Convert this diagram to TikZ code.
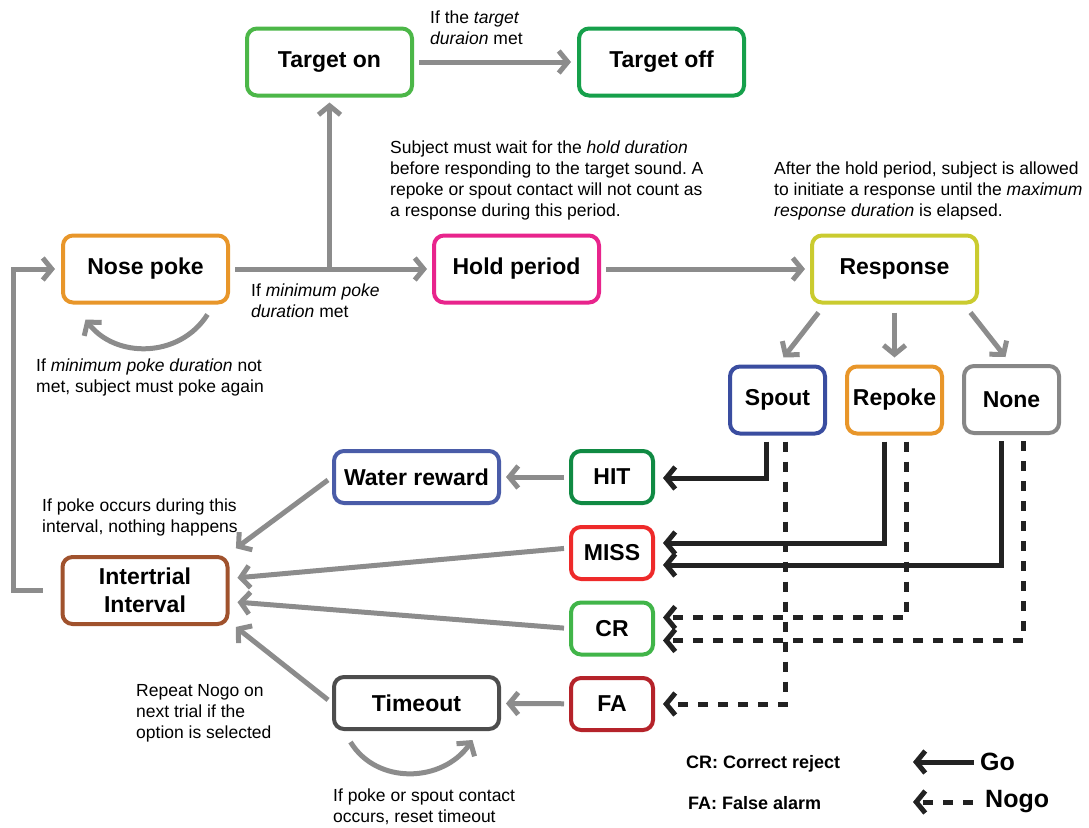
\documentclass[tikz,border=0pt]{standalone}
\usepackage{fontspec}
\setmainfont{Liberation Sans}
\usetikzlibrary{arrows.meta}
\frenchspacing

\definecolor{targetgreen}{RGB}{76,183,72}
\definecolor{offgreen}{RGB}{22,160,75}
\definecolor{pokeorange}{RGB}{232,150,42}
\definecolor{holdpink}{RGB}{232,36,140}
\definecolor{respyellow}{RGB}{202,203,47}
\definecolor{spoutblue}{RGB}{58,77,160}
\definecolor{nonegray}{RGB}{135,135,135}
\definecolor{waterblue}{RGB}{74,92,168}
\definecolor{hitgreen}{RGB}{16,138,67}
\definecolor{missred}{RGB}{238,42,42}
\definecolor{crgreen}{RGB}{65,181,73}
\definecolor{fared}{RGB}{181,35,42}
\definecolor{itibrown}{RGB}{160,82,45}
\definecolor{timeoutgray}{RGB}{77,77,77}
\definecolor{arrowgray}{RGB}{140,140,140}
\definecolor{goblack}{RGB}{34,34,34}

\tikzset{
  stage/.style={draw, rounded corners=10pt, line width=4pt, minimum width=165pt,
    minimum height=67pt, inner sep=2pt, align=center,
    font=\fontsize{23}{28}\selectfont\bfseries},
  outcome/.style={stage, minimum width=82pt, minimum height=52pt},
  choice/.style={stage, minimum width=95pt},
  widebox/.style={stage, minimum height=52pt},
  flow/.style={draw=arrowgray, line width=5pt, -{Straight Barb[length=9pt,width=22pt]},
    shorten >=5pt, shorten <=5pt},
  go/.style={draw=goblack, line width=5pt, -{Straight Barb[length=9pt,width=22pt]}},
  nogo/.style={go, dash pattern=on 10pt off 10pt},
  note/.style={font=\fontsize{17.5}{21}\selectfont, align=left, anchor=north west, inner sep=0pt},
  legendtext/.style={font=\fontsize{18}{22}\selectfont\bfseries, anchor=west, inner sep=0pt},
}

\begin{document}
\begin{tikzpicture}[x=1pt, y=-1pt]
  \useasboundingbox (0,0) rectangle (1089,827);
  % states
  \node[stage, draw=targetgreen] (targeton) at (329.5,62) {Target on};
  \node[stage, draw=offgreen] (targetoff) at (661.5,62) {Target off};
  \node[stage, draw=pokeorange] (nosepoke) at (145.5,269) {Nose poke};
  \node[stage, draw=holdpink] (holdperiod) at (516.5,269) {Hold period};
  \node[stage, draw=respyellow] (response) at (894.5,269) {Response};
  \node[choice, draw=spoutblue] (spout) at (777.5,400) {Spout};
  \node[choice, draw=pokeorange] (repoke) at (894.5,400) {Repoke};
  \node[choice, draw=nonegray] (none) at (1011.5,399.5) {None};
  \node[widebox, draw=waterblue] (water) at (416.5,477) {Water reward};
  \node[outcome, draw=hitgreen] (hit) at (612,477) {HIT};
  \node[outcome, draw=missred] (miss) at (612,553) {MISS};
  \node[outcome, draw=crgreen] (cr) at (612,628.5) {CR};
  \node[outcome, draw=fared] (fa) at (612,704) {FA};
  \node[stage, draw=itibrown] (iti) at (145,590.5) {Intertrial\\Interval};
  \node[widebox, draw=timeoutgray] (timeout) at (416.5,703) {Timeout};
  % notes
  \node[note] (ontext) at (430,11) {If the \textit{target}\\\textit{duraion} met};
  \node[note] (holdtext) at (390,141) {Subject must wait for the \textit{hold duration}\\
    before responding to the target sound. A\\repoke or spout contact will not count as\\
    a response during this period.};
  \node[note] (resptext) at (774,162) {After the hold period, subject is allowed\\
    to initiate a response until the \textit{maximum}\\\textit{response duration} is elapsed.};
  \node[note] (mettext) at (251,284) {If \textit{minimum poke}\\\textit{duration} met};
  \node[note] (notmettext) at (36,359) {If \textit{minimum poke duration} not\\met, subject must poke again};
  \node[note] (ititext) at (42,499) {If poke occurs during this\\interval, nothing happens};
  \node[note] (repeattext) at (136,684) {Repeat Nogo on\\next trial if the\\option is selected};
  \node[note] (resettext) at (333,789) {If poke or spout contact\\occurs, reset timeout};
  % gray edges
  \coordinate (branch) at (329.5,269);
  \coordinate (itiloop) at (13,590.5);
  \draw[flow] (nosepoke) -- (holdperiod);
  \draw[flow, shorten <=0pt] (branch) -- (targeton);
  \draw[flow, shorten >=6pt] (targeton) -- (targetoff);
  \draw[flow] (holdperiod) -- (response);
  \draw[flow, shorten <=0pt, shorten >=0pt] ([xshift=-76pt,yshift=-8pt]response.south) -- ([xshift=6pt,yshift=7pt]spout.north);
  \draw[flow, shorten <=0pt, shorten >=0pt] ([yshift=-8pt]response.south) -- ([yshift=7pt]repoke.north);
  \draw[flow, shorten <=0pt, shorten >=0pt] ([xshift=76pt,yshift=-8pt]response.south) -- ([xshift=-6pt,yshift=7pt]none.north);
  \draw[flow, shorten <=0pt, shorten >=0pt] ([xshift=62pt,yshift=-10pt]nosepoke.south)
    .. controls ([xshift=34pt,yshift=-54pt]nosepoke.south) and ([xshift=-30pt,yshift=-54pt]nosepoke.south)
    .. ([xshift=-60pt,yshift=-15pt]nosepoke.south);
  \draw[flow, shorten <=18pt, shorten >=6pt] (iti.west) -- (itiloop) |- (nosepoke.west);
  \draw[flow] (hit) -- (water);
  \draw[flow] (fa) -- (timeout);
  \draw[flow, shorten >=8pt] (water.west) -- ([yshift=2pt]iti.north east);
  \draw[flow, shorten >=8pt] ([yshift=5pt]miss.west) -- ([yshift=12pt]iti.east);
  \draw[flow, shorten >=8pt] (cr.west) -- ([yshift=-11pt]iti.east);
  \draw[flow, shorten >=8pt] (timeout.west) -- ([yshift=4pt]iti.south east);
  \draw[flow, shorten <=0pt, shorten >=0pt] ([xshift=-66pt,yshift=-11pt]timeout.south)
    .. controls ([xshift=-40pt,yshift=-54pt]timeout.south) and ([xshift=26pt,yshift=-52pt]timeout.south)
    .. ([xshift=56pt,yshift=-9pt]timeout.south);
  % go edges
  \draw[go, shorten <=6pt, shorten >=8pt] ([xshift=-11pt]spout.south) |- ([yshift=-1pt]hit.east);
  \draw[go, shorten <=6pt, shorten >=8pt] ([xshift=-10pt]repoke.south) |- ([yshift=10pt]miss.east);
  \draw[go, shorten <=6pt, shorten >=8pt] ([xshift=-10pt]none.south) |- ([yshift=-12pt]miss.east);
  % nogo edges
  \draw[nogo, shorten <=6pt, shorten >=8pt] ([xshift=8pt]spout.south) |- (fa.east);
  \draw[nogo, shorten <=6pt, shorten >=8pt] ([xshift=12pt]repoke.south) |- ([yshift=11pt]cr.east);
  \draw[nogo, shorten <=6pt, shorten >=8pt] ([xshift=12pt]none.south) |- ([yshift=-12pt]cr.east);
  % legend
  \node[legendtext] (crkey) at (686,764) {CR: Correct reject};
  \node[legendtext] (fakey) at (688,803) {FA: False alarm};
  \node[legendtext, font=\fontsize{25}{28}\selectfont\bfseries] (gokey) at (980,762) {Go};
  \node[legendtext, font=\fontsize{25}{28}\selectfont\bfseries] (nogokey) at (985,802) {Nogo};
  \coordinate (goend) at (913,762);
  \coordinate (nogoend) at (913,802);
  \draw[go, shorten <=6pt] (gokey.west) -- (goend);
  \draw[nogo, shorten <=12pt] (nogokey.west) -- (nogoend);
\end{tikzpicture}
\end{document}
